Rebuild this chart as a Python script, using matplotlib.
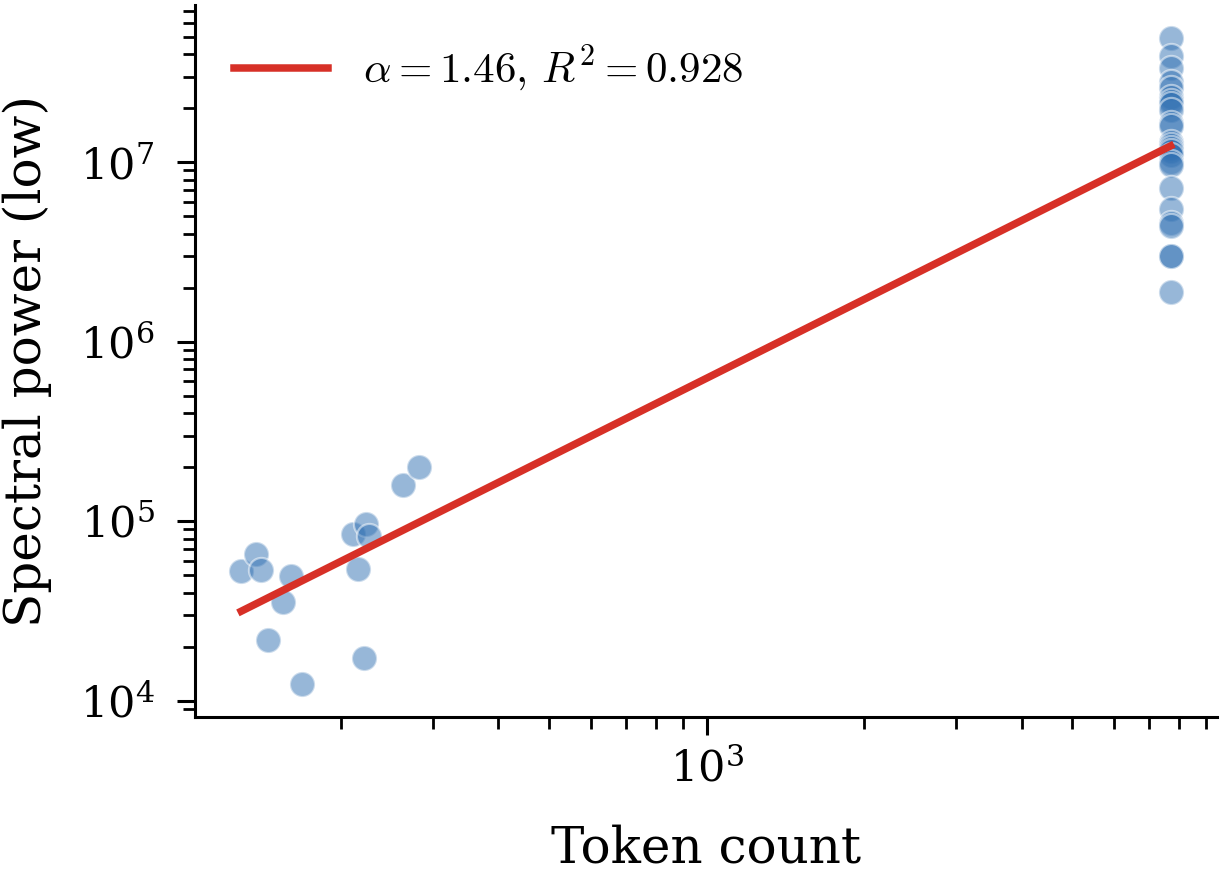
import numpy as np
import matplotlib
matplotlib.use("Agg")
import matplotlib.pyplot as plt

plt.rcParams['font.family'] = 'DejaVu Serif'
plt.rcParams['mathtext.fontset'] = 'cm'

# short sequences (left cluster)
tokens_short = [129, 137.5, 140.6, 145.4, 155.1, 160.3, 168.2,
                210.7, 215.9, 221.7, 223.1, 226.7, 263.4, 282.2]
power_short = [52600, 65800, 53200, 21700, 35300, 49500, 12300,
               84700, 54300, 17300, 96200, 82200, 159000, 201000]

# long sequences (right cluster, all at the same token count)
tokens_long = 7700
power_long = [4.95e7, 3.9e7, 3.35e7, 2.8e7, 2.6e7, 2.3e7, 2.2e7, 2.1e7,
              1.95e7, 1.65e7, 1.6e7, 1.3e7, 1.25e7, 1.2e7, 1.15e7, 1.1e7,
              1.0e7, 9.7e6, 7.2e6, 5.5e6, 4.6e6, 4.4e6, 3.0e6, 3.0e6, 1.9e6]

alpha = 1.46
r2 = 0.928
log_c = 1.4165  # intercept of the log-log fit

x = np.array(tokens_short + [tokens_long] * len(power_long), dtype=float)
y = np.array(power_short + power_long, dtype=float)

fig, ax = plt.subplots(figsize=(6.125, 4.36), dpi=200)
fig.subplots_adjust(left=0.159, right=0.9935, bottom=0.178, top=0.994)

ax.scatter(x, y, s=82, color='#3070b3', alpha=0.5, edgecolor='white', linewidth=0.8, zorder=2)

xf = np.array([x.min(), x.max()])
ax.plot(xf, 10 ** log_c * xf ** alpha, color='#d73027', lw=2.7, zorder=3,
        label=r'$\alpha = %.2f,\, R^2 = %.3f$' % (alpha, r2))

ax.set_xscale('log')
ax.set_yscale('log')
ax.set_xlabel('Token count', fontsize=18, labelpad=12)
ax.set_ylabel('Spectral power (low)', fontsize=18, labelpad=10)
ax.tick_params(which='major', labelsize=15.5, length=6.5, width=1.1)
ax.tick_params(which='minor', length=4.3, width=1.0)
ax.tick_params(axis='y', which='major', pad=8)
ax.tick_params(axis='x', which='major', pad=5)
for side in ['top', 'right']:
    ax.spines[side].set_visible(False)
for side in ['left', 'bottom']:
    ax.spines[side].set_linewidth(1.1)

ax.legend(loc='upper left', frameon=False, fontsize=15.5, handlelength=2.2)

fig.savefig('out.png', dpi=200)
